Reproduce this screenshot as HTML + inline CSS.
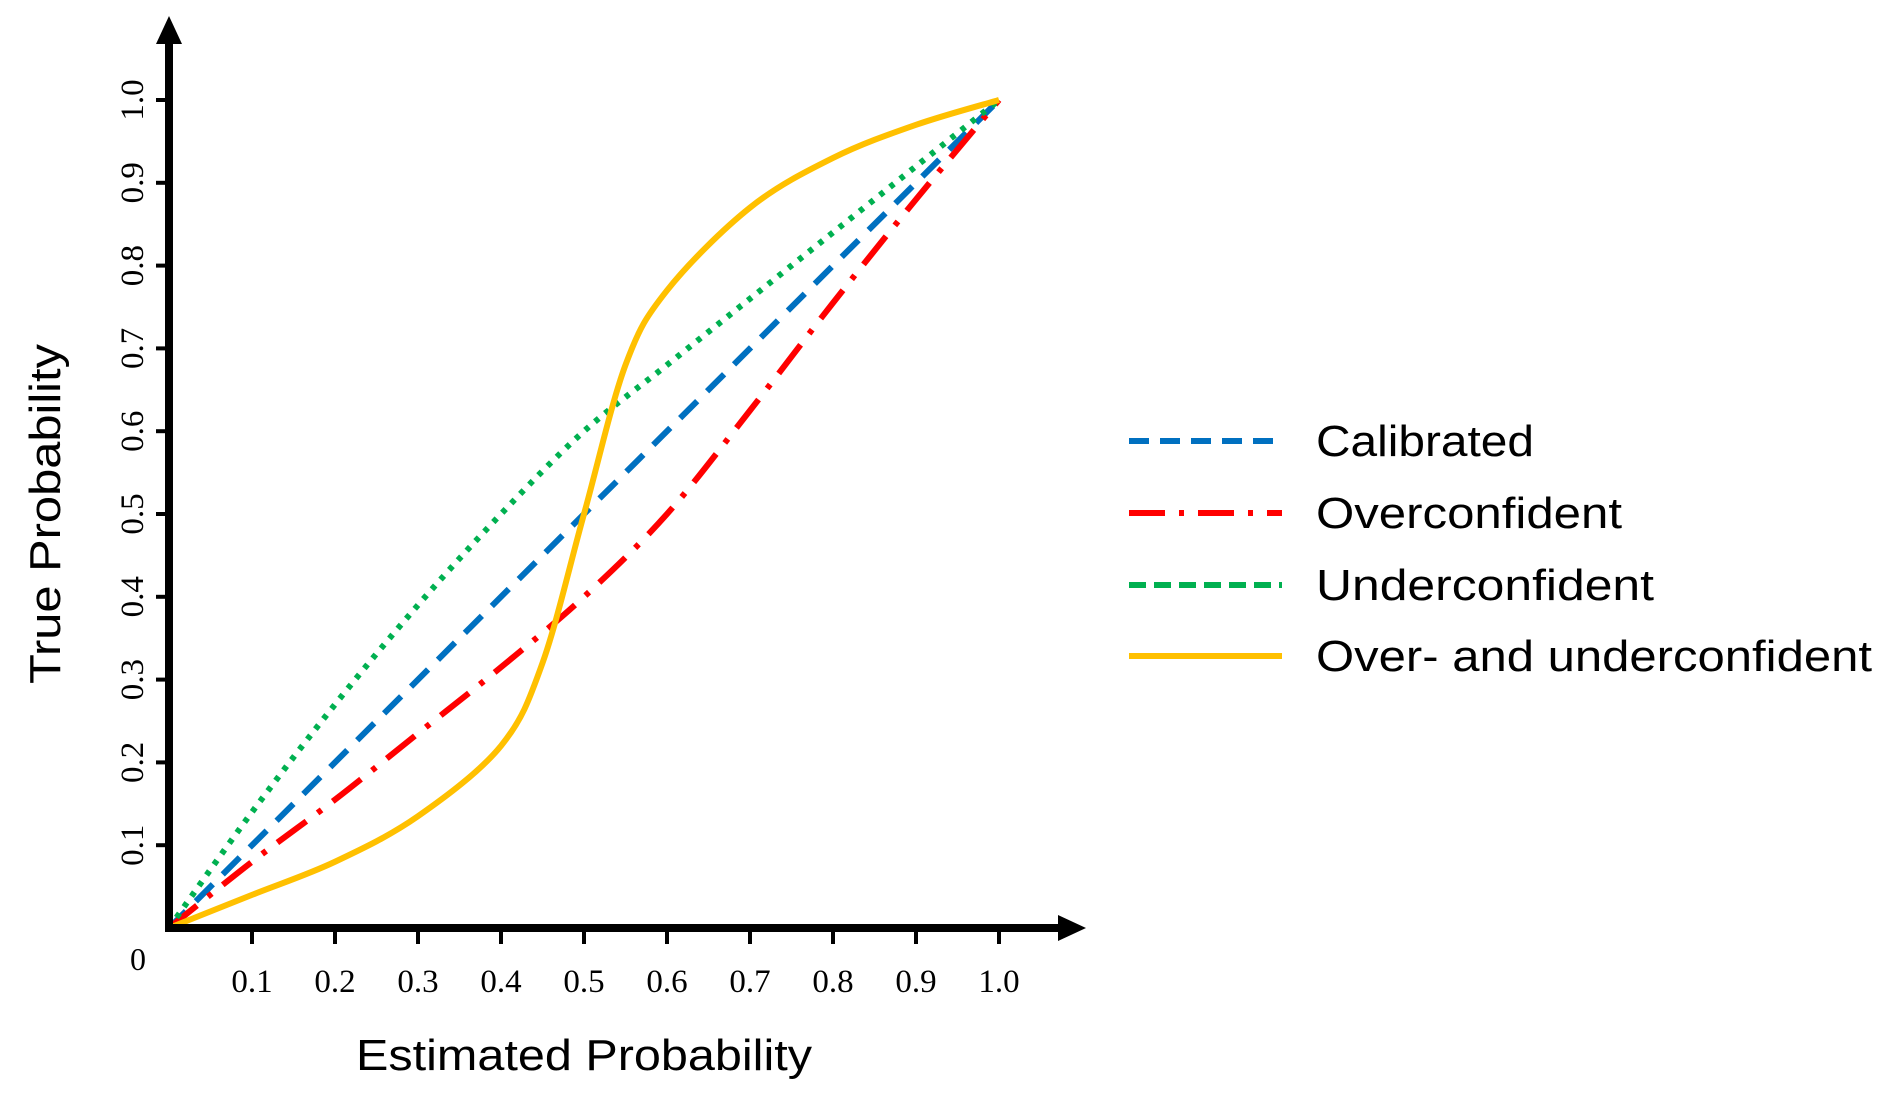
<!DOCTYPE html>
<html><head><meta charset="utf-8"><style>
html,body{margin:0;padding:0;background:#fff;}
svg{display:block;}
</style></head><body>
<svg id="chart" width="1888" height="1102" viewBox="0 0 1888 1102" xmlns="http://www.w3.org/2000/svg">
<g id="plot"></g>
</svg>
<script>
const xTicks = [0.1,0.2,0.3,0.4,0.5,0.6,0.7,0.8,0.9,1.0];
const tickLabels = ["0.1","0.2","0.3","0.4","0.5","0.6","0.7","0.8","0.9","1.0"];
const calX = [0,1];
const calY = [0,1];
const overX = [0,0.1,0.2,0.3,0.4,0.5,0.6,0.7,0.8,0.9,1.0];
const overY = [0,0.08,0.155,0.235,0.315,0.40,0.50,0.625,0.755,0.88,1.0];
const underX = [0,0.1,0.2,0.3,0.4,0.5,0.6,0.7,0.8,0.9,1.0];
const underY = [0,0.14,0.27,0.39,0.50,0.60,0.68,0.76,0.84,0.92,1.0];
const mixX = [0,0.1,0.2,0.3,0.4,0.45,0.5,0.55,0.6,0.7,0.8,0.9,1.0];
const mixY = [0,0.04,0.08,0.135,0.22,0.32,0.50,0.68,0.77,0.87,0.93,0.97,1.0];

const X0=169, Y0=928, PX=83, PY=82.8;
const sx = v => X0 + v*PX*10;
const sy = v => Y0 - v*PY*10;
const NS="http://www.w3.org/2000/svg";
const g=document.getElementById('plot');
function mk(tag, attrs, parent){const e=document.createElementNS(NS,tag);for(const k in attrs)e.setAttribute(k,attrs[k]);(parent||g).appendChild(e);return e;}
function smooth(xs,ys){
  const p=xs.map((x,i)=>[sx(x),sy(ys[i])]);
  let d=`M${p[0][0]},${p[0][1]}`;
  for(let i=0;i<p.length-1;i++){
    const p0=p[i-1]||p[i],p1=p[i],p2=p[i+1],p3=p[i+2]||p[i+1];
    const c1=[p1[0]+(p2[0]-p0[0])/6,p1[1]+(p2[1]-p0[1])/6];
    const c2=[p2[0]-(p3[0]-p1[0])/6,p2[1]-(p3[1]-p1[1])/6];
    d+=` C${c1[0]},${c1[1]} ${c2[0]},${c2[1]} ${p2[0]},${p2[1]}`;
  }
  return d;
}
let e;
e=mk('path',{d:smooth(calX,calY),fill:'none',stroke:'#0070c0','stroke-width':6,'stroke-dasharray':'24 14'});


e=mk('path',{d:smooth(overX,overY),fill:'none',stroke:'#ff0000','stroke-width':6,'stroke-dasharray':'36 14 5 14'});


e=mk('path',{d:smooth(underX,underY),fill:'none',stroke:'#00b050','stroke-width':6,'stroke-dasharray':'5 8'});


e=mk('path',{d:smooth(mixX,mixY),fill:'none',stroke:'#ffc000','stroke-width':6});


e=mk('line',{x1:X0-4,y1:Y0,x2:1070,y2:Y0,stroke:'#000','stroke-width':8});


e=mk('polygon',{points:`1086,${Y0} 1058,${Y0-13} 1058,${Y0+13}`,fill:'#000'});


e=mk('line',{x1:X0,y1:Y0+4,x2:X0,y2:34,stroke:'#000','stroke-width':8});


e=mk('polygon',{points:`${X0},16 ${X0-13},44 ${X0+13},44`,fill:'#000'});


xTicks.forEach((v,i)=>{
  let t=mk('line',{x1:sx(v),y1:Y0,x2:sx(v),y2:Y0+16,stroke:'#000','stroke-width':4});
  
  
  t=mk('line',{x1:X0-13,y1:sy(v),x2:X0,y2:sy(v),stroke:'#000','stroke-width':4});
  
  
  let l=mk('text',{x:sx(v),y:992,'text-anchor':'middle','font-family':'Liberation Serif, serif','font-size':33});
  l.textContent=tickLabels[i];
  
  
  l=mk('text',{x:0,y:0,'text-anchor':'middle','font-family':'Liberation Serif, serif','font-size':33,transform:`translate(143,${sy(v)}) rotate(-90)`});
  l.textContent=tickLabels[i];
  
  
});
</script>
<svg style="position:absolute;left:0;top:0" width="1888" height="1102">
<text x="138" y="970" text-anchor="middle" font-family="Liberation Serif, serif" font-size="32">0</text>
<text x="584" y="1070" text-anchor="middle" font-family="Liberation Sans Narrow, Liberation Sans, sans-serif" font-size="44" textLength="456" lengthAdjust="spacingAndGlyphs">Estimated Probability</text>
<text transform="translate(60,514) rotate(-90)" text-anchor="middle" font-family="Liberation Sans Narrow, Liberation Sans, sans-serif" font-size="44" textLength="340" lengthAdjust="spacingAndGlyphs">True Probability</text>
<g font-family="Liberation Sans Narrow, Liberation Sans, sans-serif" font-size="44">
<line x1="1129" y1="441" x2="1282" y2="441" stroke="#0070c0" stroke-width="6" stroke-dasharray="20 11"/>
<text x="1316" y="456" textLength="218" lengthAdjust="spacingAndGlyphs">Calibrated</text>
<line x1="1129" y1="513" x2="1282" y2="513" stroke="#ff0000" stroke-width="6" stroke-dasharray="36 14 5 14"/>
<text x="1316" y="528" textLength="306" lengthAdjust="spacingAndGlyphs">Overconfident</text>
<line x1="1129" y1="585" x2="1282" y2="585" stroke="#00b050" stroke-width="6" stroke-dasharray="17 8"/>
<text x="1316" y="600" textLength="338" lengthAdjust="spacingAndGlyphs">Underconfident</text>
<line x1="1129" y1="656" x2="1282" y2="656" stroke="#ffc000" stroke-width="6"/>
<text x="1316" y="671" textLength="556" lengthAdjust="spacingAndGlyphs">Over- and underconfident</text>
</g>
</svg>
</body></html>
